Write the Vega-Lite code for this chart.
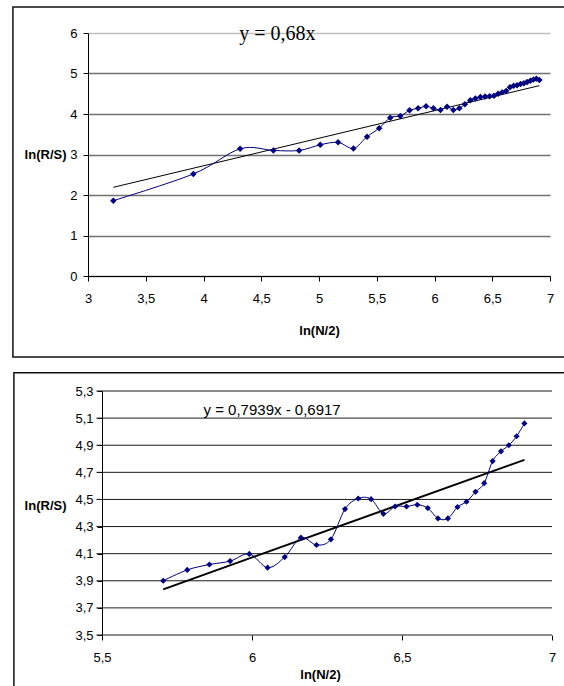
{
  "$schema": "https://vega.github.io/schema/vega-lite/v6.json",
  "background": "white",
  "padding": {"left": 12, "top": 6, "right": 0, "bottom": 0},
  "spacing": 13,
  "config": {
    "view": {"stroke": null},
    "font": "Liberation Sans",
    "axis": {
      "domainColor": "black", "tickColor": "black", "labelColor": "black", "titleColor": "black",
      "labelFont": "Liberation Sans", "titleFont": "Liberation Sans",
      "labelFontSize": 13, "titleFontSize": 13, "titleFontWeight": "bold",
      "tickSize": 5, "labelFlush": false, "labelOverlap": false, "labelBound": false, "tickCount": 30
    }
  },
  "datasets": {
    "top": [
      {"x": 3.219, "y": 1.86}, {"x": 3.912, "y": 2.52}, {"x": 4.317, "y": 3.14}, {"x": 4.605, "y": 3.10},
      {"x": 4.828, "y": 3.10}, {"x": 5.011, "y": 3.24}, {"x": 5.165, "y": 3.30}, {"x": 5.298, "y": 3.15},
      {"x": 5.416, "y": 3.44}, {"x": 5.521, "y": 3.65}, {"x": 5.617, "y": 3.91}, {"x": 5.704, "y": 3.95},
      {"x": 5.784, "y": 4.09}, {"x": 5.858, "y": 4.14}, {"x": 5.927, "y": 4.19}, {"x": 5.991, "y": 4.14},
      {"x": 6.052, "y": 4.10}, {"x": 6.109, "y": 4.18}, {"x": 6.163, "y": 4.10}, {"x": 6.215, "y": 4.14},
      {"x": 6.263, "y": 4.24}, {"x": 6.310, "y": 4.34}, {"x": 6.354, "y": 4.38}, {"x": 6.397, "y": 4.42},
      {"x": 6.438, "y": 4.43}, {"x": 6.477, "y": 4.44}, {"x": 6.515, "y": 4.45}, {"x": 6.551, "y": 4.50},
      {"x": 6.586, "y": 4.54}, {"x": 6.620, "y": 4.57}, {"x": 6.653, "y": 4.66}, {"x": 6.685, "y": 4.70},
      {"x": 6.715, "y": 4.71}, {"x": 6.745, "y": 4.74}, {"x": 6.774, "y": 4.76}, {"x": 6.802, "y": 4.79},
      {"x": 6.830, "y": 4.82}, {"x": 6.856, "y": 4.85}, {"x": 6.882, "y": 4.87}, {"x": 6.908, "y": 4.84}
    ],
    "topTrend": [{"x": 3.219, "y": 2.19}, {"x": 6.908, "y": 4.70}],
    "bottom": [
      {"x": 5.704, "y": 3.90}, {"x": 5.784, "y": 3.98}, {"x": 5.858, "y": 4.02}, {"x": 5.927, "y": 4.045},
      {"x": 5.991, "y": 4.098}, {"x": 6.052, "y": 3.997}, {"x": 6.109, "y": 4.075}, {"x": 6.163, "y": 4.218},
      {"x": 6.215, "y": 4.164}, {"x": 6.263, "y": 4.206}, {"x": 6.310, "y": 4.429}, {"x": 6.354, "y": 4.507},
      {"x": 6.397, "y": 4.502}, {"x": 6.438, "y": 4.394}, {"x": 6.477, "y": 4.448}, {"x": 6.515, "y": 4.448},
      {"x": 6.551, "y": 4.461}, {"x": 6.586, "y": 4.436}, {"x": 6.620, "y": 4.36}, {"x": 6.653, "y": 4.36},
      {"x": 6.685, "y": 4.444}, {"x": 6.715, "y": 4.483}, {"x": 6.745, "y": 4.556}, {"x": 6.774, "y": 4.62},
      {"x": 6.802, "y": 4.783}, {"x": 6.830, "y": 4.855}, {"x": 6.856, "y": 4.90}, {"x": 6.882, "y": 4.966},
      {"x": 6.908, "y": 5.061}
    ],
    "bottomTrend": [{"x": 5.704, "y": 3.837}, {"x": 6.908, "y": 4.792}],
    "bottomGrid": [
      {"v": 3.5}, {"v": 3.7}, {"v": 3.9}, {"v": 4.1}, {"v": 4.3},
      {"v": 4.5}, {"v": 4.7}, {"v": 4.9}, {"v": 5.1}, {"v": 5.3}
    ]
  },
  "vconcat": [
    {
      "width": 462,
      "height": 243,
      "layer": [
        {
          "data": {"name": "topTrend"},
          "mark": {"type": "line", "color": "black", "strokeWidth": 1},
          "encoding": {
            "x": {"field": "x", "type": "quantitative", "scale": {"domain": [3, 7], "nice": false, "zero": false},
              "axis": {"title": "ln(N/2)", "values": [3, 3.5, 4, 4.5, 5, 5.5, 6, 6.5, 7], "tickCount": 30,
                "labelExpr": "replace(format(datum.value, '.1~f'), '.', ',')",
                "grid": false, "labelPadding": 11, "titlePadding": 19}},
            "y": {"field": "y", "type": "quantitative", "scale": {"domain": [0, 6], "nice": false},
              "axis": {"title": "ln(R/S)", "values": [0, 1, 2, 3, 4, 5, 6], "format": "d", "tickCount": 30,
                "grid": true, "gridWidth": 1.5,
                "gridColor": {"condition": {"test": "datum.value === 6", "value": "#c0c0c0"}, "value": "#707070"},
                "labelPadding": 6, "titleAngle": 0, "titleAlign": "right", "titleBaseline": "middle",
                "titleX": -22, "titleY": 121}}
          }
        },
        {
          "data": {"values": [{}]},
          "mark": {"type": "rect", "fill": null, "stroke": "#111", "strokeWidth": 1.5},
          "encoding": {
            "x": {"datum": 2.35, "type": "quantitative"},
            "x2": {"datum": 7.25},
            "y": {"datum": -2.0, "type": "quantitative"},
            "y2": {"datum": 6.643}
          }
        },
        {
          "data": {"name": "top"},
          "mark": {"type": "line", "color": "#000080", "strokeWidth": 1, "interpolate": "cardinal",
            "point": {"shape": "diamond", "filled": true, "size": 42, "color": "#000080"}},
          "encoding": {
            "x": {"field": "x", "type": "quantitative"},
            "y": {"field": "y", "type": "quantitative"}
          }
        },
        {
          "data": {"values": [{}]},
          "mark": {"type": "text", "text": "y = 0,68x", "font": "Liberation Serif", "fontSize": 20, "color": "black", "align": "center", "baseline": "middle"},
          "encoding": {
            "x": {"datum": 4.64, "type": "quantitative"},
            "y": {"datum": 5.98, "type": "quantitative"}
          }
        }
      ]
    },
    {
      "width": 464,
      "height": 244,
      "layer": [
        {
          "data": {"name": "bottomGrid"},
          "mark": {"type": "rule", "color": "#1a1a1a", "strokeWidth": 1},
          "encoding": {
            "y": {"field": "v", "type": "quantitative", "title": "ln(R/S)"},
            "x": {"datum": 5.4813, "type": "quantitative"},
            "x2": {"datum": 7}
          }
        },
        {
          "data": {"name": "bottomTrend"},
          "mark": {"type": "line", "color": "black", "strokeWidth": 2},
          "encoding": {
            "x": {"field": "x", "type": "quantitative", "scale": {"domain": [5.45327, 7], "nice": false, "zero": false},
              "axis": {"title": "ln(N/2)", "values": [5.5, 6, 6.5, 7], "tickCount": 30, "domain": false,
                "labelExpr": "replace(format(datum.value, '.1~f'), '.', ',')",
                "grid": false, "labelPadding": 11, "titlePadding": 4}},
            "y": {"field": "y", "type": "quantitative", "scale": {"domain": [3.5, 5.3], "nice": false, "zero": false},
              "axis": {"title": "ln(R/S)", "values": [3.5, 3.7, 3.9, 4.1, 4.3, 4.5, 4.7, 4.9, 5.1, 5.3], "tickCount": 30,
                "labelExpr": "replace(format(datum.value, '.1f'), '.', ',')",
                "grid": false, "offset": -14,
                "labelPadding": 4, "titleAngle": 0, "titleAlign": "right", "titleBaseline": "middle",
                "titleX": -36, "titleY": 114}}
          }
        },
        {
          "data": {"values": [{}]},
          "mark": {"type": "rect", "fill": null, "stroke": "#111", "strokeWidth": 1.5},
          "encoding": {
            "x": {"datum": 5.2063, "type": "quantitative"},
            "x2": {"datum": 7.1},
            "y": {"datum": 3.0, "type": "quantitative"},
            "y2": {"datum": 5.435}
          }
        },
        {
          "data": {"name": "bottom"},
          "mark": {"type": "line", "color": "#000080", "strokeWidth": 1, "interpolate": "cardinal",
            "point": {"shape": "diamond", "filled": true, "size": 38, "color": "#000080"}},
          "encoding": {
            "x": {"field": "x", "type": "quantitative"},
            "y": {"field": "y", "type": "quantitative"}
          }
        },
        {
          "data": {"values": [{}]},
          "mark": {"type": "text", "text": "y = 0,7939x - 0,6917", "font": "Liberation Sans", "fontSize": 15, "color": "black", "align": "center", "baseline": "middle"},
          "encoding": {
            "x": {"datum": 6.067, "type": "quantitative"},
            "y": {"datum": 5.162, "type": "quantitative"}
          }
        }
      ]
    }
  ]
}
